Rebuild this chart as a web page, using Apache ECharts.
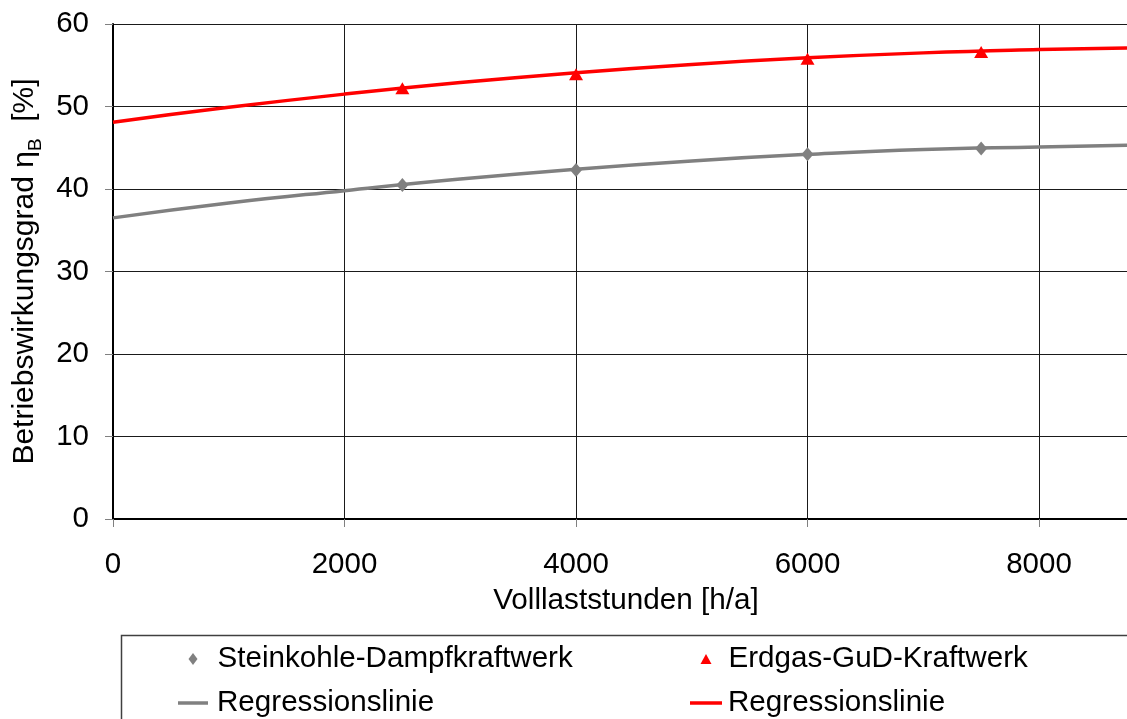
<!DOCTYPE html>
<html>
<head>
<meta charset="utf-8">
<script src="https://cdn.jsdelivr.net/npm/echarts@6/dist/echarts.min.js"></script>
<style>
html,body{margin:0;padding:0;background:#fff;}
#c{width:1127px;height:719px;}
</style>
</head>
<body>
<div id="c"></div>
<script>
// Data
var steinkohleX = [2500, 4000, 6000, 7500];
var steinkohleY = [40.5, 42.3, 44.2, 44.9];
var erdgasX = [2500, 4000, 6000, 7500];
var erdgasY = [52.2, 53.9, 55.8, 56.6];
var regX = [0, 1000, 2000, 3000, 4000, 5000, 6000, 7000, 8000, 8760];
var regSteinkohleY = [36.5, 38.3, 39.8, 41.2, 42.4, 43.4, 44.2, 44.8, 45.1, 45.3];
var regErdgasY = [48.1, 49.9, 51.5, 52.9, 54.1, 55.1, 55.9, 56.5, 56.9, 57.1];
var legendNames = ['Steinkohle-Dampfkraftwerk', 'Erdgas-GuD-Kraftwerk', 'Regressionslinie'];

function pairs(xs, ys) { return xs.map(function (x, i) { return [x, ys[i]]; }); }

var FONT = 'Liberation Sans, Arial, sans-serif';
var LEG_TEXT = {fontSize: 29.6, fontFamily: FONT, color: '#000', lineHeight: 30};

function legendBox(left, top, w, h, icon, name, pad, color) {
  return {
    left: left, top: top, orient: 'vertical', itemWidth: w, itemHeight: h, padding: 0,
    selectedMode: false,
    data: [{name: name, icon: icon, itemStyle: {color: color}}],
    formatter: function (n) { return n.indexOf('Reg') === 0 ? legendNames[2] : n; },
    textStyle: Object.assign({padding: [0, 0, 0, pad]}, LEG_TEXT)
  };
}

var chart = echarts.init(document.getElementById('c'), null, {renderer: 'canvas'});
chart.setOption({
  animation: false,
  backgroundColor: '#ffffff',
  textStyle: {fontFamily: FONT, color: '#000'},
  grid: {left: 113, top: 24, right: -4, bottom: 200, containLabel: false},
  xAxis: {
    type: 'value', min: 0, max: 8760, interval: 2000,
    name: 'Volllaststunden [h/a]', nameLocation: 'middle', nameGap: 67,
    nameTextStyle: {fontSize: 29.7, fontFamily: FONT, color: '#000', padding: [0, 0, 0, 12]},
    axisLine: {show: true, lineStyle: {color: '#000', width: 2}},
    axisTick: {show: true, inside: false, length: 8, lineStyle: {color: '#808080', width: 1}},
    axisLabel: {fontSize: 29.5, fontFamily: FONT, color: '#000', margin: 31, showMaxLabel: false,
      formatter: function (v) { return String(v); }},
    splitLine: {show: true, lineStyle: {color: '#1a1a1a', width: 1}}
  },
  yAxis: {
    type: 'value', min: 0, max: 60, interval: 10,
    name: '{a|Betriebswirkungsgrad η}{b|B}{a|  [%]}', nameLocation: 'middle', nameGap: 68,
    nameRotate: 90,
    nameTextStyle: {
      fontFamily: FONT, color: '#000',
      rich: {
        a: {fontSize: 30, fontFamily: FONT, color: '#000', lineHeight: 34, verticalAlign: 'bottom'},
        b: {fontSize: 19, fontFamily: FONT, color: '#000', lineHeight: 34, verticalAlign: 'bottom', padding: [0, 0, -6, 0]}
      }
    },
    axisLine: {show: true, lineStyle: {color: '#000', width: 2}},
    axisTick: {show: true, inside: false, length: 8, lineStyle: {color: '#808080', width: 1}},
    axisLabel: {fontSize: 29.5, fontFamily: FONT, color: '#000', margin: 24,
      formatter: function (v) { return String(v); }},
    splitLine: {show: true, lineStyle: {color: '#1a1a1a', width: 1}}
  },
  legend: [
    legendBox(188.5, 644, 9, 12, 'diamond', 'Steinkohle-Dampfkraftwerk', 15, '#808080'),
    legendBox(178, 688, 30, 3.5, 'rect', 'RegS', 4, '#808080'),
    legendBox(700.5, 644, 11, 10, 'triangle', 'Erdgas-GuD-Kraftwerk', 12, '#ff0000'),
    legendBox(690, 688, 32, 3.5, 'rect', 'RegE', 1, '#ff0000')
  ],
  graphic: [
    {type: 'rect', left: 119, top: 633, z: -1, silent: true,
      shape: {width: 1030, height: 100},
      style: {fill: 'none', stroke: '#404040', lineWidth: 1.5}}
  ],
  series: [
    {
      name: 'RegS', type: 'line', smooth: true, symbol: 'none', z: 2,
      lineStyle: {color: '#808080', width: 3.5}, itemStyle: {color: '#808080'},
      data: pairs(regX, regSteinkohleY)
    },
    {
      name: 'RegE', type: 'line', smooth: true, symbol: 'none', z: 2,
      lineStyle: {color: '#ff0000', width: 3.5}, itemStyle: {color: '#ff0000'},
      data: pairs(regX, regErdgasY)
    },
    {
      name: 'Steinkohle-Dampfkraftwerk', type: 'scatter', symbol: 'diamond', symbolSize: [12, 14], z: 5,
      itemStyle: {color: '#808080', opacity: 1},
      data: pairs(steinkohleX, steinkohleY)
    },
    {
      name: 'Erdgas-GuD-Kraftwerk', type: 'scatter', symbol: 'triangle', symbolSize: [14, 12], z: 5,
      itemStyle: {color: '#ff0000', opacity: 1},
      data: pairs(erdgasX, erdgasY)
    }
  ]
});
</script>
</body>
</html>
